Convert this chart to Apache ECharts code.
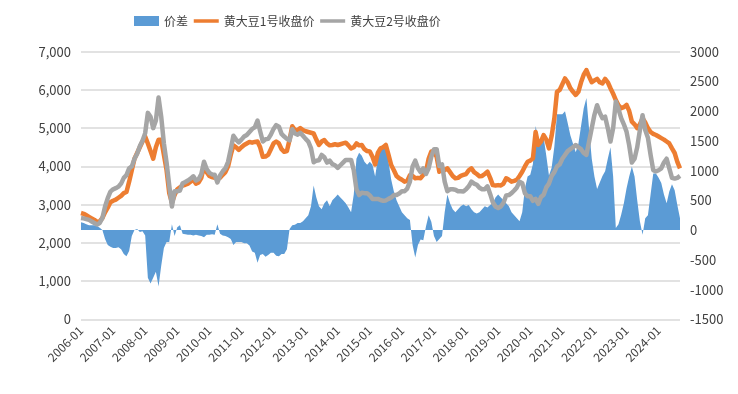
<!DOCTYPE html>
<html>
<head>
<meta charset="utf-8">
<script src="https://cdn.jsdelivr.net/npm/echarts@6/dist/echarts.min.js"></script>
<style>html,body{margin:0;padding:0;background:#fff}#c{width:738px;height:394px}</style>
</head>
<body>
<div id="c"></div>
<script>
// Monthly categories 2006-01 .. 2024-09
const categories = [];
for (let y = 2006; y <= 2024; y++) {
  for (let m = 1; m <= 12; m++) {
    if (y === 2024 && m > 9) break;
    categories.push(y + '-' + (m < 10 ? '0' + m : m));
  }
}
const leftTicks = [0, 1000, 2000, 3000, 4000, 5000, 6000, 7000];
const rightTicks = [-1500, -1000, -500, 0, 500, 1000, 1500, 2000, 2500, 3000];

// 黄大豆1号收盘价
const soy1 = [
  2780, 2760, 2720, 2680, 2640, 2600, 2550, 2560, 2650, 2800, 2920, 3060,
  3100, 3130, 3180, 3230, 3300, 3330, 3600, 3900, 4200, 4350, 4500, 4650,
  4780, 4600, 4400, 4200, 4500, 4700, 4700, 4300, 3900, 3300, 3050, 3250,
  3400, 3450, 3500, 3520, 3550, 3600, 3650, 3550, 3580, 3700, 4000, 3850,
  3750, 3720, 3700, 3680, 3700, 3780, 3850, 4000, 4300, 4550, 4500, 4430,
  4500, 4560, 4600, 4640, 4620, 4640, 4650, 4500, 4250, 4260, 4300, 4450,
  4600, 4650, 4600, 4450, 4380, 4400, 4700, 5050, 4950, 4950, 5000, 4950,
  4920, 4900, 4880, 4860, 4700, 4560, 4650, 4690, 4600, 4550, 4560, 4580,
  4560, 4580, 4600, 4620, 4550, 4470, 4500, 4600, 4550, 4560, 4450, 4400,
  4390, 4250, 4050, 4350, 4470, 4500, 4560, 4300, 4035, 3900, 3750, 3690,
  3650, 3600, 3620, 3770, 3750, 3690, 3700, 3690, 3780, 3860, 4200, 4390,
  4350, 4250, 3860, 3950, 3900, 3950, 3850, 3750, 3690, 3700, 3750, 3775,
  3800, 3900, 3950, 3850, 3800, 3740, 3750, 3800, 3860, 3700, 3510, 3500,
  3510, 3500, 3550, 3690, 3650, 3600, 3620, 3650, 3750, 3860, 4000, 4120,
  4150, 4210, 4900, 4560, 4650, 4820, 4700, 4470, 4800, 5250, 5950, 6000,
  6150, 6300, 6200, 6045, 5950, 5870, 5950, 6200, 6400, 6520, 6350, 6200,
  6250, 6290, 6200, 6170, 6290, 6200, 6045, 5900, 5735, 5600, 5520, 5550,
  5610, 5450, 5170, 5100, 5000, 5100, 5260, 5150, 5000, 4900, 4850, 4820,
  4780, 4740, 4700, 4650, 4600, 4470, 4350, 4120, 3950
];
// 黄大豆2号收盘价
const soy2 = [
  2650, 2640, 2620, 2600, 2560, 2520, 2480, 2520, 2650, 2950, 3170, 3340,
  3400, 3430, 3470, 3550, 3700, 3770, 3950, 4000, 4200, 4330, 4530, 4670,
  4870, 5400, 5300, 5000, 5200, 5800, 5300, 4600, 4100, 3500, 2950, 3350,
  3350, 3370, 3560, 3590, 3630, 3680, 3740, 3630, 3670, 3800, 4120, 3930,
  3830, 3790, 3780, 3580, 3760, 3870, 3950, 4120, 4450, 4800, 4700, 4630,
  4700, 4780, 4820, 4900, 4980, 5020, 5200, 4920, 4650, 4710, 4720, 4830,
  4980, 5080, 5040, 4850, 4780, 4720, 4680, 4970, 4860, 4830, 4880, 4800,
  4720, 4650, 4480, 4110, 4150, 4160, 4300, 4240, 4100, 4150, 4060, 4030,
  3960, 4030, 4100, 4170, 4170, 4170, 3900, 3400, 3250, 3310, 3300, 3300,
  3240, 3150, 3150, 3150, 3120, 3100, 3110, 3150, 3185, 3250, 3250, 3290,
  3350, 3350, 3420, 3600, 4000, 4150, 3950, 3850, 3950, 3800, 3950, 4250,
  4450, 4450, 4010, 4050, 3600, 3350, 3400, 3400, 3390, 3350, 3350, 3345,
  3400, 3480, 3600, 3550, 3520, 3440, 3400, 3400, 3480, 3280, 3060, 2950,
  2910, 2950, 3050, 3240, 3250, 3300, 3370, 3450, 3600, 3560, 3300, 3220,
  3220, 3100, 3150, 3020, 3200, 3260, 3450, 3550, 3750, 3850, 4000, 4050,
  4200, 4300, 4400, 4450, 4500, 4560, 4500, 4450, 4350, 4300, 4650, 5000,
  5350, 5600, 5400, 5260, 5300, 5000, 4650, 5000, 5700, 5500, 5260, 5100,
  4910, 4550, 4100, 4200, 4500, 4950, 5340, 4950, 4750, 4300, 3900, 3870,
  3900, 3950, 4100, 4200, 3950, 3700, 3680, 3700, 3750
];
// 价差 (right axis)
const spread = [
  130, 120, 100, 80, 80, 80, 70, 40, 0, -150, -250, -280,
  -300, -300, -290, -320, -400, -440, -350, -100, 0, 20, -30, -20,
  -90, -800, -900, -800, -700, -950, -600, -300, -200, -200, 100, -100,
  50, 80, -60, -70, -80, -80, -90, -80, -90, -100, -120, -80,
  -80, -70, -80, 100, -60, -90, -100, -120, -150, -250, -200, -200,
  -200, -220, -220, -260, -360, -380, -550, -420, -400, -450, -420, -380,
  -380, -430, -440, -400, -400, -320, 20, 80, 90, 120, 120, 150,
  200, 250, 400, 750, 550, 400, 350, 450, 500, 400, 500, 550,
  600, 550, 500, 450, 380, 300, 600, 1200, 1300, 1250, 1150, 1100,
  1150, 1100, 900, 1200, 1350, 1400, 1450, 1150, 850, 650, 500, 400,
  300, 250, 200, 170, -250, -460, -250, -160, -170, 60, 250, 140,
  -100, -200, -150, -100, 300, 600, 450, 350, 300, 350, 400, 430,
  400, 420, 350, 300, 280, 300, 350, 400, 380, 420, 450, 550,
  600, 550, 500, 450, 400, 300, 250, 200, 150, 300, 700, 900,
  930, 1110, 1750, 1540, 1450, 1560, 1250, 920, 1050, 1400, 1950, 1950,
  1950, 2000, 1800, 1595, 1450, 1310, 1450, 1750, 2050, 2220, 1700, 1200,
  900, 690, 800, 910, 990, 1200, 1395, 900, 35, 100, 260, 450,
  700, 900, 1070, 900, 500, 150, -80, 200, 250, 600, 950, 950,
  880, 790, 600, 450, 650, 770, 670, 420, 200
];

const FONT = '"Noto Sans CJK SC", "Liberation Sans", sans-serif';
const chart = echarts.init(document.getElementById('c'), null, {renderer: 'canvas'});
chart.setOption({
  animation: false,
  backgroundColor: '#ffffff',
  textStyle: {fontFamily: FONT},
  legend: {
    left: 129, top: 10,
    itemWidth: 25, itemHeight: 10, itemGap: 4,
    textStyle: {fontSize: 12, color: '#404040', fontFamily: FONT},
    data: [
      {name: '价差', icon: 'rect'},
      {name: '黄大豆1号收盘价', itemStyle: {opacity: 0}, lineStyle: {width: 3.5}},
      {name: '黄大豆2号收盘价', itemStyle: {opacity: 0}, lineStyle: {width: 3.5}}
    ]
  },
  grid: {left: 81, right: 58, top: 51.7, bottom: 74.7, containLabel: false, outerBoundsMode: 'none'},
  xAxis: {
    type: 'category',
    data: categories,
    boundaryGap: false,
    axisLine: {show: false},
    axisTick: {show: false},
    axisLabel: {
      rotate: 45,
      margin: 9,
      fontSize: 12,
      color: '#404040',
      fontFamily: FONT,
      interval: function (idx, val) { return val.slice(5) === '01'; }
    },
    splitLine: {show: false}
  },
  yAxis: [
    {
      type: 'value', min: leftTicks[0], max: leftTicks[leftTicks.length - 1], interval: 1000,
      axisLine: {show: false}, axisTick: {show: false},
      axisLabel: {fontSize: 13, color: '#404040', margin: 10, fontFamily: FONT,
        formatter: function (v) { return v.toLocaleString('en-US'); }},
      splitLine: {lineStyle: {color: '#d9d9d9', width: 1.5}}
    },
    {
      type: 'value', min: rightTicks[0], max: rightTicks[rightTicks.length - 1], interval: 500,
      axisLine: {show: false}, axisTick: {show: false},
      axisLabel: {fontSize: 13, color: '#404040', margin: 10, fontFamily: FONT,
        formatter: function (v) { return String(v); }},
      splitLine: {show: false}
    }
  ],
  series: [
    {
      name: '价差', type: 'line', yAxisIndex: 1, data: spread,
      symbol: 'none', showSymbol: false,
      lineStyle: {width: 0, color: '#5B9BD5'},
      itemStyle: {color: '#5B9BD5'},
      areaStyle: {color: '#5B9BD5', opacity: 1}
    },
    {
      name: '黄大豆1号收盘价', type: 'line', yAxisIndex: 0, data: soy1,
      symbol: 'none', showSymbol: false,
      lineStyle: {width: 4.5, color: '#ED7D31', join: 'round'},
      itemStyle: {color: '#ED7D31'}
    },
    {
      name: '黄大豆2号收盘价', type: 'line', yAxisIndex: 0, data: soy2,
      symbol: 'none', showSymbol: false,
      lineStyle: {width: 4.5, color: '#A5A5A5', join: 'round'},
      itemStyle: {color: '#A5A5A5'}
    }
  ]
});
</script>
</body>
</html>
